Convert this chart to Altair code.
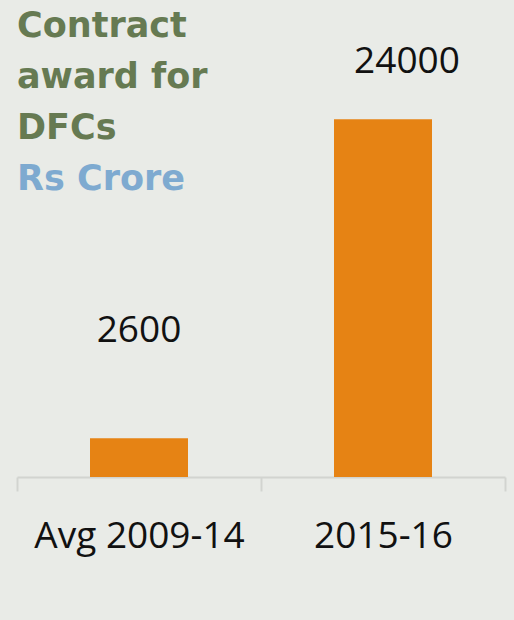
import altair as alt
import pandas as pd

categories = ["Avg 2009-14", "2015-16"]
values = [2600, 24000]

df = pd.DataFrame({"period": categories, "value": values})

BG = "#e9ebe7"

x = alt.X("period:N", sort=categories, title=None,
          scale=alt.Scale(paddingInner=0, paddingOuter=0),
          axis=alt.Axis(labelAngle=0, labelFont="Open Sans", labelFontSize=37,
                        labelColor="#111111", labelPadding=27, labelLimit=0,
                        tickBand="extent",
                        domainColor="#d2d4d0", tickColor="#d2d4d0", tickSize=14,
                        domainWidth=2, tickWidth=2, grid=False))
y = alt.Y("value:Q", title=None, scale=alt.Scale(domain=[0, 32000], nice=False),
          axis=None)

base = alt.Chart(df).encode(x=x, y=y)

bars = base.mark_bar(size=98, color="#e68314")

lbl1 = base.transform_filter(alt.datum.period == categories[0]).mark_text(
    font="Open Sans", fontSize=37, color="#111111", dy=-96, baseline="alphabetic"
).encode(text="value:Q")
lbl2 = base.transform_filter(alt.datum.period == categories[1]).mark_text(
    font="Open Sans", fontSize=37, color="#111111", dy=-46, dx=24, baseline="alphabetic"
).encode(text="value:Q")

chart = alt.layer(bars, lbl1, lbl2).properties(
    width=488, height=477,
    title=alt.TitleParams(
        text=["Contract", "award for", "DFCs"],
        subtitle="Rs Crore",
        anchor="start", orient="top", offset=-197,
        font="DejaVu Sans", fontSize=35, fontWeight="bold", color="#667a52",
        lineHeight=51,
        subtitleFont="DejaVu Sans", subtitleFontSize=35, subtitleFontWeight="bold",
        subtitleColor="#7eaad0", subtitlePadding=16, subtitleLineHeight=51,
        frame="group",
    ),
    autosize=alt.AutoSizeParams(type="none"),
    padding={"left": 17, "top": 0, "right": 9, "bottom": 143},
    background=BG,
).configure_view(stroke=None)

chart.save("out.html", embed_options={"renderer": "svg", "actions": False})
